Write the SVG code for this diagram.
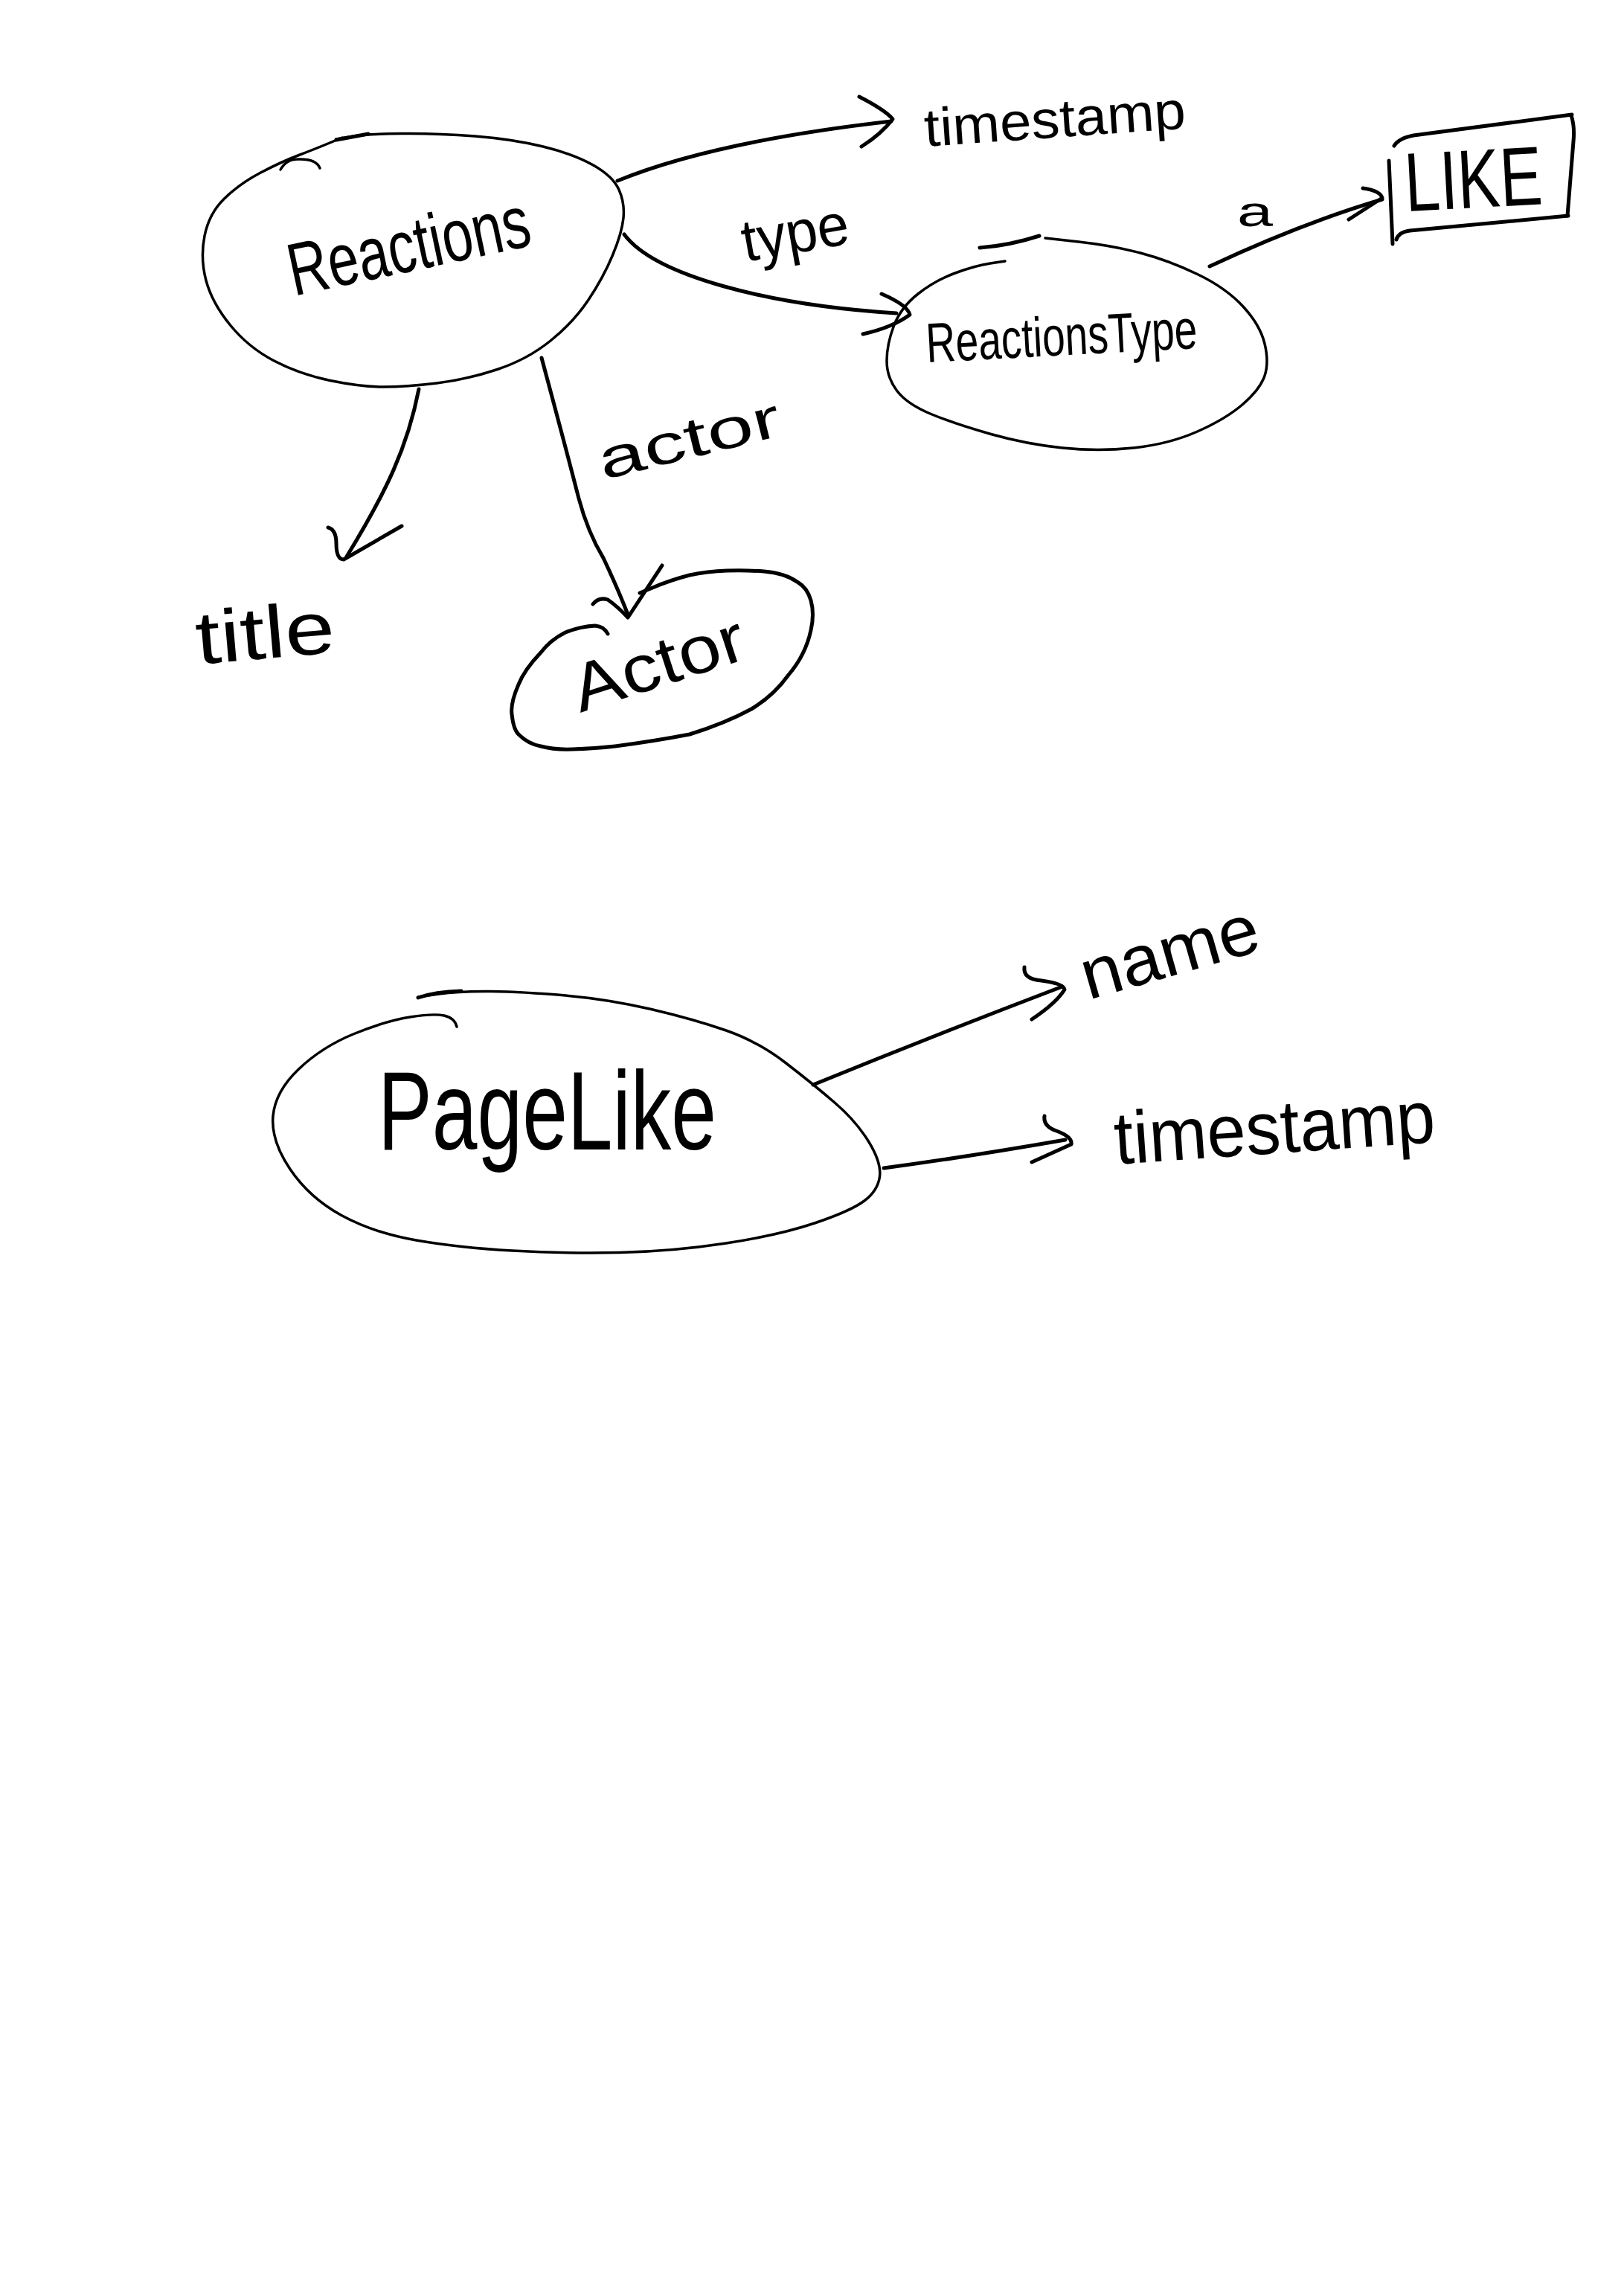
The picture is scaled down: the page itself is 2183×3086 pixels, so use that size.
<svg xmlns="http://www.w3.org/2000/svg" width="2183" height="3086" viewBox="0 0 2183 3086">
  <style>
    .bg { fill: #ffffff; }
    .outline { fill: none; stroke: #000; stroke-width: 3.5; stroke-linecap: round; stroke-linejoin: round; }
    .bold { fill: none; stroke: #000; stroke-width: 5; stroke-linecap: round; stroke-linejoin: round; }
    .edge { fill: none; stroke: #000; stroke-width: 5; stroke-linecap: round; stroke-linejoin: round; }
    .lbl { font-family: "Liberation Sans", Arial, sans-serif; fill: #000; }
  </style>
  <rect class="bg" x="0" y="0" width="2183" height="3086"/>

  <!-- Reactions -->
  <g id="node-reactions">
    <path class="outline" d="M452,187 L472.5,183.5 Q493,180 540,179.5 Q587,179 638,183 Q689,187 730,197 Q771,207 797.5,222 Q824,237 832,255 Q840,273 838,293 Q836,313 823.5,343 Q811,373 791,403 Q771,433 740,458 Q709,483 668.5,496.5 Q628,510 587,515 Q546,520 515.5,520 Q485,520 444,511.5 Q403,503 368.5,485 Q334,467 309.5,437 Q285,407 277,377 Q269,347 275,317 Q281,287 301.5,267 Q322,247 349.5,232.5 Q377,218 400.5,209 Q424,200 442,192.5 L460,185"/>
    <path class="outline" d="M377,228 Q385,214 400,214 Q425,213 430,226"/>
    <path class="bold" d="M452,188 L495,180"/>
    <text class="lbl" x="395" y="398" font-size="100" textLength="330" lengthAdjust="spacingAndGlyphs" transform="rotate(-12 395 398)">Reactions</text>
  </g>

  <!-- ReactionsType -->
  <g id="node-reactionstype">
    <path class="outline" d="M1405,320 L1450,325 Q1495,330 1533,340 Q1571,350 1609.5,368.5 Q1648,387 1671,412 Q1694,437 1700,462 Q1706,487 1700,505 Q1694,523 1671,543 Q1648,563 1609.5,580 Q1571,597 1523.5,602 Q1476,607 1428,602 Q1380,597 1332,583.5 Q1284,570 1251.5,556.5 Q1219,543 1205.5,525 Q1192,507 1192,485 Q1192,463 1201.5,438 Q1211,413 1234,395 Q1257,377 1284,367 Q1311,357 1331,354 L1351,351"/>
    <path class="bold" d="M1317,333 Q1357,330 1397,317"/>
    <text class="lbl" x="1246" y="487" font-size="75" textLength="365" lengthAdjust="spacingAndGlyphs" transform="rotate(-3 1246 487)">ReactionsType</text>
  </g>

  <!-- LIKE -->
  <g id="node-like">
    <path class="bold" d="M1874,196 Q1880,186 1900,182 L2113,154"/>
    <path class="bold" d="M2112,155 Q2117,170 2115,190 L2107,290"/>
    <path class="bold" d="M1877,322 Q1880,312 1895,310 L2108,290"/>
    <path class="bold" d="M1867,216 L1872,328"/>
    <text class="lbl" x="1890" y="284" font-size="112" textLength="185" lengthAdjust="spacingAndGlyphs" transform="rotate(-3 1890 284)">LIKE</text>
  </g>

  <!-- title -->
  <g id="node-title">
    <text class="lbl" x="266" y="893" font-size="100" textLength="187" lengthAdjust="spacingAndGlyphs" transform="rotate(-5 266 893)">title</text>
  </g>

  <!-- Actor -->
  <g id="node-actor">
    <path class="bold" d="M817,852 Q812,842 800,841 Q780,842 760,850 Q740,860 727,877 Q705,900 697,920 Q686,945 688,960 Q690,980 697,987 Q710,1000 727,1003 Q745,1008 770,1007 Q800,1006 827,1003 Q880,996 927,987 Q975,972 1010,953 Q1040,935 1060,907 Q1083,880 1090,847 Q1095,825 1090,807 Q1085,790 1073,783 Q1055,770 1027,768 Q1000,766 977,767 Q950,768 927,773 Q900,780 877,790 L860,797"/>
    <text class="lbl" x="780" y="958" font-size="90" textLength="240" lengthAdjust="spacingAndGlyphs" transform="rotate(-18 780 958)">Actor</text>
  </g>

  <!-- timestamp (Reactions) -->
  <g id="node-timestamp-1">
    <text class="lbl" x="1244" y="197" font-size="72" textLength="352" lengthAdjust="spacingAndGlyphs" transform="rotate(-4 1244 197)">timestamp</text>
  </g>

  <!-- PageLike -->
  <g id="node-pagelike">
    <path class="outline" d="M562,1340 L589.5,1336 Q617,1332 660,1332.5 Q703,1333 760.5,1338 Q818,1343 875.5,1356.5 Q933,1370 976,1385 Q1019,1400 1056,1428.5 Q1093,1457 1122,1482 Q1151,1507 1168,1535 Q1185,1563 1182.5,1581.5 Q1180,1600 1162.5,1613.5 Q1145,1627 1096.5,1643.5 Q1048,1660 976,1671 Q904,1682 832.5,1683.5 Q761,1685 689,1681 Q617,1677 559.5,1667 Q502,1657 459,1633.5 Q416,1610 390,1571.5 Q364,1533 367,1500 Q370,1467 401.5,1437 Q433,1407 476,1389.5 Q519,1372 551,1367 Q583,1362 597,1365 Q611,1368 614,1380"/>
    <path class="bold" d="M562,1341 Q585,1333 620,1332"/>
    <text class="lbl" x="508" y="1545" font-size="150" textLength="455" lengthAdjust="spacingAndGlyphs">PageLike</text>
  </g>

  <!-- name -->
  <g id="node-name">
    <text class="lbl" x="1463" y="1344" font-size="95" textLength="245" lengthAdjust="spacingAndGlyphs" transform="rotate(-16 1463 1344)">name</text>
  </g>

  <!-- timestamp (PageLike) -->
  <g id="node-timestamp-2">
    <text class="lbl" x="1500" y="1565" font-size="100" textLength="432" lengthAdjust="spacingAndGlyphs" transform="rotate(-4 1500 1565)">timestamp</text>
  </g>

  <!-- connectors -->
  <g id="connectors">
    <!-- Reactions to timestamp -->
    <path class="edge" d="M830,243 Q960,190 1198,163"/>
    <path class="edge" d="M1155,130 Q1190,148 1200,160 Q1185,180 1158,197"/>

    <!-- Reactions to ReactionsType: type -->
    <path class="edge" d="M839,315 C880,370 1030,410 1205,421"/>
    <path class="edge" d="M1185,395 Q1220,410 1223,423 Q1200,440 1160,449"/>
    <text class="lbl" x="1002" y="352" font-size="80" textLength="145" lengthAdjust="spacingAndGlyphs" transform="rotate(-10 1002 352)">type</text>

    <!-- ReactionsType to LIKE: a -->
    <path class="edge" d="M1626,358 Q1750,300 1858,268"/>
    <path class="edge" d="M1832,253 Q1855,256 1858,266 L1813,295"/>
    <text class="lbl" x="1663" y="304" font-size="58" textLength="48" lengthAdjust="spacingAndGlyphs">a</text>

    <!-- Reactions to title -->
    <path class="edge" d="M563,523 C548,600 520,660 466,748"/>
    <path class="edge" d="M441,709 Q452,712 452,730 Q452,752 462,752 L540,707"/>

    <!-- Reactions to Actor: actor -->
    <path class="edge" d="M728,481 Q760,600 778,670 Q790,715 811,750 Q830,790 844,826"/>
    <path class="edge" d="M797,812 Q805,802 817,806 Q830,815 844,830 L890,760"/>
    <text class="lbl" x="811" y="645" font-size="75" textLength="250" lengthAdjust="spacingAndGlyphs" transform="rotate(-14 811 645)">actor</text>

    <!-- PageLike to name -->
    <path class="edge" d="M1093,1458 Q1260,1390 1428,1326"/>
    <path class="edge" d="M1377,1300 Q1375,1316 1400,1318 Q1430,1322 1431,1330 Q1420,1348 1387,1370"/>

    <!-- PageLike to timestamp -->
    <path class="edge" d="M1188,1570 Q1300,1555 1432,1532"/>
    <path class="edge" d="M1404,1500 Q1402,1514 1420,1520 Q1442,1528 1440,1538 L1387,1562"/>
  </g>
</svg>
